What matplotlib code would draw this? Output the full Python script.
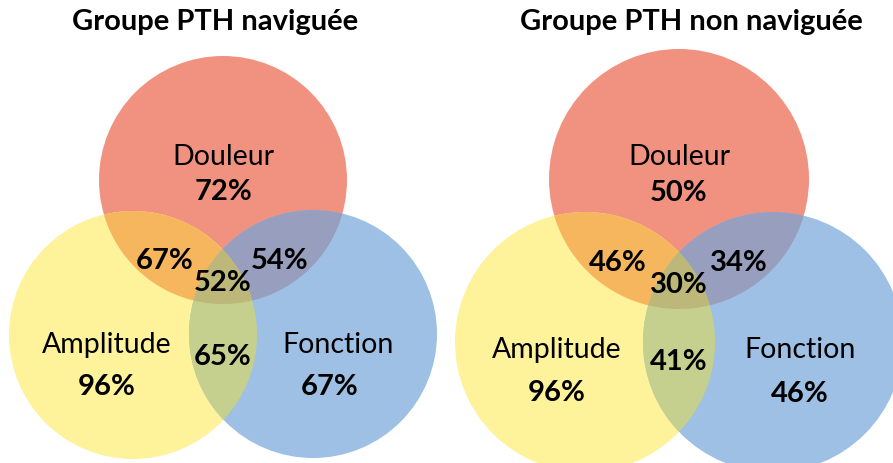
import numpy as np
import matplotlib.pyplot as plt
from matplotlib.patches import Circle, Polygon

plt.rcParams['font.family'] = ['Lato', 'DejaVu Sans']

titles = ["Groupe PTH naviguée", "Groupe PTH non naviguée"]
sets = ["Douleur", "Amplitude", "Fonction"]
# single set values: Douleur, Amplitude, Fonction
single = [[72, 96, 67], [50, 96, 46]]
# pairs: Douleur∩Amplitude, Douleur∩Fonction, Amplitude∩Fonction
pairs = [[67, 54, 65], [46, 34, 41]]
triple = [52, 30]

# colors of each region
c_single = ["#F19281", "#FEF29B", "#9DC0E4"]
c_pairs = ["#F5B65E", "#989EBE", "#C5D08F"]
c_triple = "#BDB87A"

# layout (pixels) of the two diagrams
layout = [
    dict(centers=[(223, 180), (133, 335), (313, 334)], r=124,
         title=(215, 22),
         lab=[(223, 157), (107, 345), (338, 345)],
         val=[(223, 192), (107, 387), (330, 387)],
         pair=[(165, 261), (280, 261), (223, 357)],
         tri=(223, 283)),
    dict(centers=[(679, 179), (585, 342), (773, 342)], r=130,
         title=(691, 22),
         lab=[(679, 157), (557, 350), (800, 350)],
         val=[(679, 193), (557, 393), (800, 394)],
         pair=[(618, 263), (739, 263), (679, 362)],
         tri=(679, 285)),
]


def region(centers, r, idx):
    # convex intersection of circles in idx
    pts = []
    t = np.linspace(0, 2 * np.pi, 720, endpoint=False)
    for i in idx:
        cx, cy = centers[i]
        p = np.c_[cx + r * np.cos(t), cy + r * np.sin(t)]
        ok = np.ones(len(p), bool)
        for j in idx:
            if j != i:
                d = np.hypot(p[:, 0] - centers[j][0], p[:, 1] - centers[j][1])
                ok &= d <= r + 1e-9
        pts.append(p[ok])
    pts = np.vstack(pts)
    c = pts.mean(axis=0)
    ang = np.arctan2(pts[:, 1] - c[1], pts[:, 0] - c[0])
    return pts[np.argsort(ang)]


fig = plt.figure(figsize=(8.93, 4.63), dpi=100)
ax = fig.add_axes([0, 0, 1, 1])
ax.set_xlim(0, 893)
ax.set_ylim(463, 0)
ax.axis('off')

pair_idx = [(0, 1), (0, 2), (1, 2)]
for k, L in enumerate(layout):
    cs, r = L['centers'], L['r']
    for i in range(3):
        ax.add_patch(Circle(cs[i], r, facecolor=c_single[i], edgecolor='none'))
    for p, (i, j) in enumerate(pair_idx):
        ax.add_patch(Polygon(region(cs, r, (i, j)), closed=True,
                             facecolor=c_pairs[p], edgecolor='none'))
    ax.add_patch(Polygon(region(cs, r, (0, 1, 2)), closed=True,
                         facecolor=c_triple, edgecolor='none'))

    ax.text(*L['title'], titles[k], ha='center', va='center',
            fontsize=21, fontweight='bold')
    for i in range(3):
        ax.text(*L['lab'][i], sets[i], ha='center', va='center', fontsize=20.5)
        ax.text(*L['val'][i], f"{single[k][i]}%", ha='center', va='center',
                fontsize=21, fontweight='bold')
        ax.text(*L['pair'][i], f"{pairs[k][i]}%", ha='center', va='center',
                fontsize=21, fontweight='bold')
    ax.text(*L['tri'], f"{triple[k]}%", ha='center', va='center',
            fontsize=21, fontweight='bold')

fig.savefig('out.png', dpi=100)
